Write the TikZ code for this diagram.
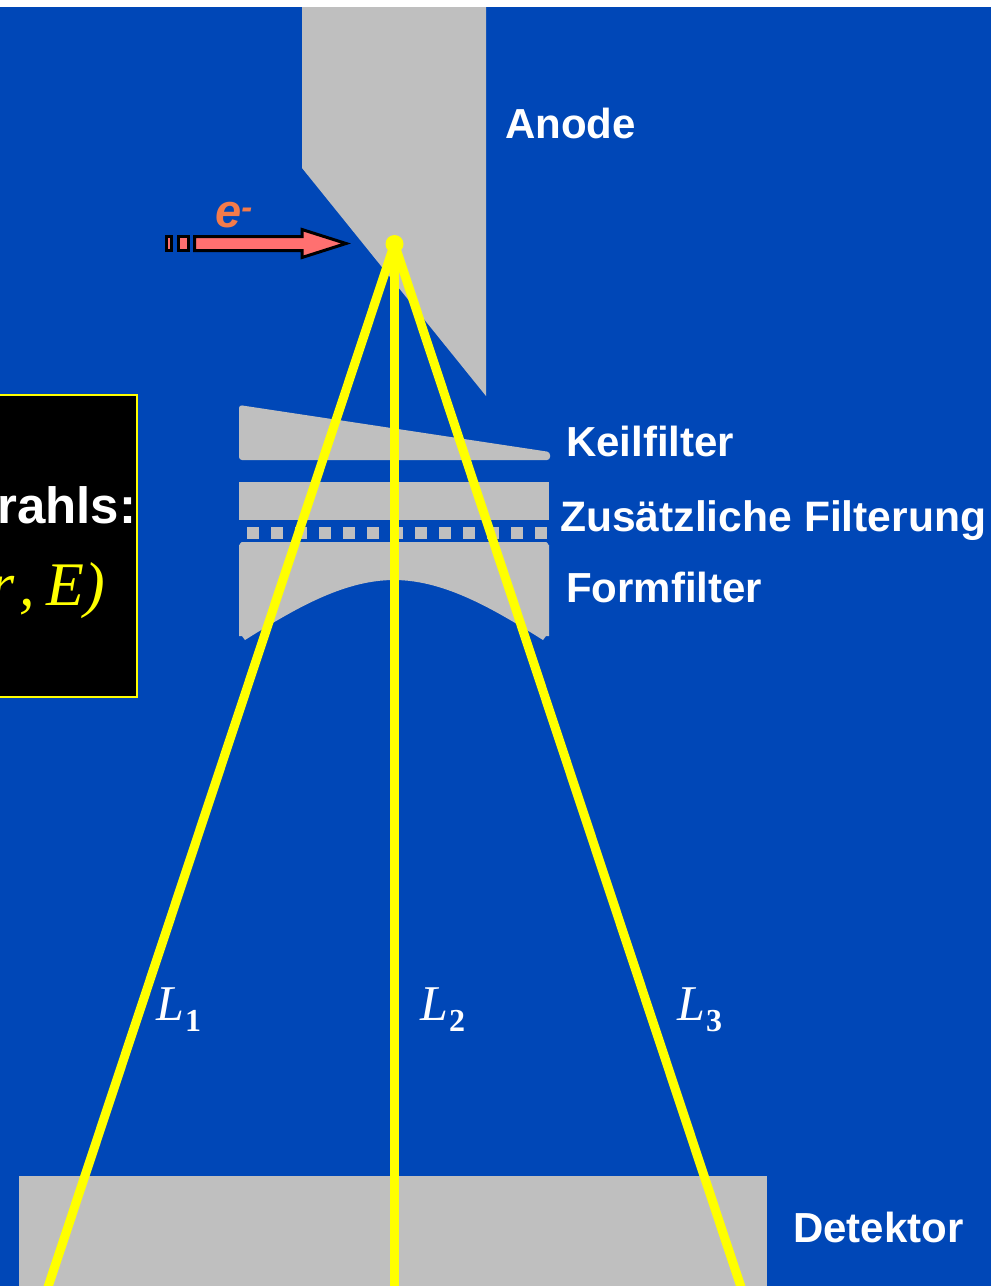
\documentclass[tikz,border=0pt]{standalone}
\usepackage{fontspec}
\setsansfont{Liberation Sans}
\setmainfont{Liberation Serif}
\usepackage{tikz}
\usetikzlibrary{positioning}
\definecolor{slideblue}{HTML}{0047B7}
\definecolor{partgray}{HTML}{BFBFBF}
\definecolor{rayyellow}{HTML}{FFFF00}
\definecolor{arrowred}{HTML}{FF7070}
\definecolor{elecorange}{HTML}{F47B4A}
\tikzset{
    partname/.style={text=white, anchor=base west, inner sep=0pt, font=\fontsize{42}{42}\selectfont\sffamily\bfseries},
    pathname/.style={text=white, anchor=base west, inner sep=0pt, font=\fontsize{50}{50}\selectfont\itshape},
    ray/.style={rayyellow, line width=9pt},
    part/.style={fill=partgray},
    gunpart/.style={fill=arrowred, draw=black, line width=3pt, miter limit=10}
}
\newcommand{\pathlabel}[1]{L\kern1pt\raisebox{-11pt}{\fontsize{32}{32}\selectfont\upshape\bfseries #1}}

\begin{document}
\begin{tikzpicture}[x=1pt, y=-1pt]
    \useasboundingbox (0,0) rectangle (1006,1286);
    \fill[white] (0,0) rectangle (1006,1286);
    \fill[slideblue] (0,7) rectangle (991,1286);

    % Anode
    \fill[part] (302,7) -- (486,7) -- (486,396) -- (302,168) -- cycle;
    \node[partname] (anode) at (505,138.5) {Anode};

    % Filters
    \fill[part, rounded corners=3pt] (239,405) -- (550,452) -- (550,460) -- (239,460) -- cycle;
    \fill[part] (239,482) rectangle (549,520);
    \foreach \i in {0,...,12} {
        \fill[part] (247+24*\i,527) rectangle +(12,12);
    }
    \fill[part] (242,542) -- (546,542) to[out=0,in=-90] (549,545) -- (549,636) -- (546,636) -- (543,640)
        .. controls (495,610) and (445,580) .. (394,580)
        .. controls (343,580) and (293,610) .. (245,640) -- (242,636) -- (239,636) -- (239,545) to[out=-90,in=180] cycle;
    \node[partname] (keil) at (566,456) {Keilfilter};
    \node[partname, font=\fontsize{42.6}{42.6}\selectfont\sffamily\bfseries] (zusatz) at (560,531) {Zusätzliche Filterung};
    \node[partname] (form) at (566,602) {Formfilter};

    % Detector
    \fill[part] (19,1176) rectangle (767,1286);
    \node[partname] (detektor) at (793,1242) {Detektor};

    % Electron beam
    \draw[gunpart] (194.5,236.5) -- (302,236.5) -- (302,229.5) -- (346,243.5) -- (302,257.5) -- (302,250.5) -- (194.5,250.5) -- cycle;
    \draw[gunpart] (178,236.5) rectangle (188,250.5);
    \draw[gunpart] (166.5,236.5) rectangle (171.5,250.5);
    \node[anchor=base west, inner sep=0pt, text=elecorange, font=\fontsize{47}{47}\selectfont\sffamily\bfseries\itshape] (elec) at (215,227.5) {e\textsuperscript{-}};

    % Rays
    \node[circle, fill=rayyellow, minimum size=18pt, inner sep=0pt] (focus) at (394.5,244) {};
    \coordinate (foot1) at (47,1290);
    \coordinate (foot2) at (394.5,1290);
    \coordinate (foot3) at (742,1290);
    \draw[ray] (focus.center) -- (foot1);
    \draw[ray] (focus.center) -- (foot2);
    \draw[ray] (focus.center) -- (foot3);
    \node[pathname] (l1) at (156,1020) {\pathlabel{1}};
    \node[pathname] (l2) at (420,1020) {\pathlabel{2}};
    \node[pathname] (l3) at (677,1020) {\pathlabel{3}};

    % Box at the left edge
    \draw[rayyellow, fill=black, line width=2pt] (-10,395) rectangle (137,697);
    \node[anchor=base east, inner sep=0pt, text=white, font=\fontsize{51}{51}\selectfont\sffamily\bfseries] (strahl) at (136.5,523) {rahls:};
    \node[anchor=base east, inner sep=0pt, text=rayyellow, font=\fontsize{62}{62}\selectfont\itshape] (spek) at (105,605) {r\kern5pt,\kern11pt E)};
\end{tikzpicture}
\end{document}
